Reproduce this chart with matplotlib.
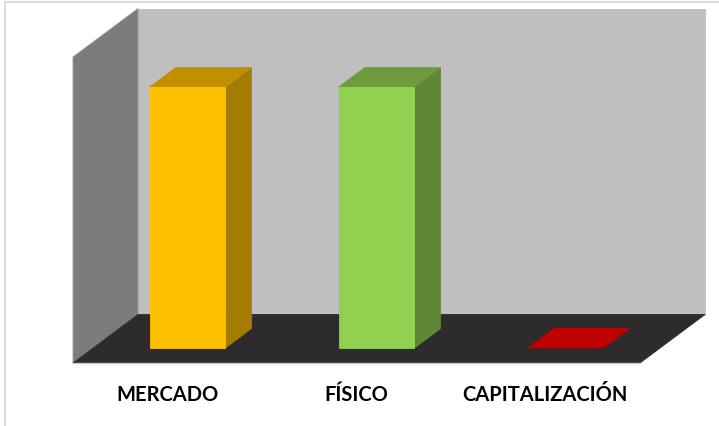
import matplotlib
matplotlib.use('Agg')
import matplotlib.pyplot as plt
from matplotlib.patches import Polygon, Rectangle

categories = ['MERCADO', 'FÍSICO', 'CAPITALIZACIÓN']
values = [85.3, 85.3, 0]

front_colors = ['#FFC000', '#92D050', '#C00000']
top_colors = ['#C09000', '#6E9C3C', '#C00000']
side_colors = ['#A67C00', '#5F8735', '#900000']

W, H = 719, 427
# depth of the box in axes fractions, the chart is an oblique projection
DX, DY = 65 / 567, 48.5 / 306
BAR_WIDTH = 0.40
BAR_Z = (0.31, 0.71)

fig = plt.figure(figsize=(W / 100, H / 100), dpi=100)
ax = fig.add_axes([73 / W, 1 - 364 / H, 567 / W, 306 / H])
ax.set_xlim(-0.5, 2.5)
ax.set_ylim(0, 100)
ax.axis('off')


# proj maps category position, value and depth (0 front, 1 back) to data coords
def proj(x, y, z):
    return (x + z * DX * 3, y + z * DY * 100)


def face(points, color, edge=None, zorder=1):
    ax.add_patch(Polygon(
        [proj(*p) for p in points],
        closed=True,
        facecolor=color,
        edgecolor=edge if edge else color,
        linewidth=0.6,
        zorder=zorder,
        clip_on=False
    ))


x0, x1 = -0.5, 2.5
y0, y1 = 0, 100

# walls and floor
face([(x0, y0, 1), (x1, y0, 1), (x1, y1, 1), (x0, y1, 1)], '#BFBFBF')
face([(x0, y0, 0), (x0, y0, 1), (x0, y1, 1), (x0, y1, 0)], '#7C7C7C', edge='#9A9A9A')
face([(x0, y0, 0), (x1, y0, 0), (x1, y0, 1), (x0, y0, 1)], '#2D2B2B', zorder=2)
ax.plot([x0, x1], [y0, y0], color='#C8C8C8', linewidth=1, zorder=3, clip_on=False)

# bars
for i, value in enumerate(values):
    left, right = i - BAR_WIDTH / 2, i + BAR_WIDTH / 2
    z0, z1 = BAR_Z
    if value > 0:
        face([(right, 0, z0), (right, 0, z1), (right, value, z1), (right, value, z0)],
             side_colors[i], zorder=4)
        face([(left, value, z0), (right, value, z0), (right, value, z1), (left, value, z1)],
             top_colors[i], zorder=4)
        face([(left, 0, z0), (right, 0, z0), (right, value, z0), (left, value, z0)],
             front_colors[i], zorder=5)
    else:
        face([(left, 0, z0), (right, 0, z0), (right, 0, z1), (left, 0, z1)],
             top_colors[i], zorder=4)

# category labels
label_x = [168, 356, 545]
for name, px in zip(categories, label_x):
    fig.text(px / W, 1 - 395 / H, name, ha='center', va='center', family='Lato',
             weight='bold', fontsize=14.5, color='#000000')

# thin outer frame of the picture
fig.add_artist(Rectangle((4.5 / W, -0.1), 1, 1.1 - 3.5 / H, transform=fig.transFigure,
                         facecolor='none', edgecolor='#DDDDDD', linewidth=1.5))

fig.savefig('out.png', dpi=100)
